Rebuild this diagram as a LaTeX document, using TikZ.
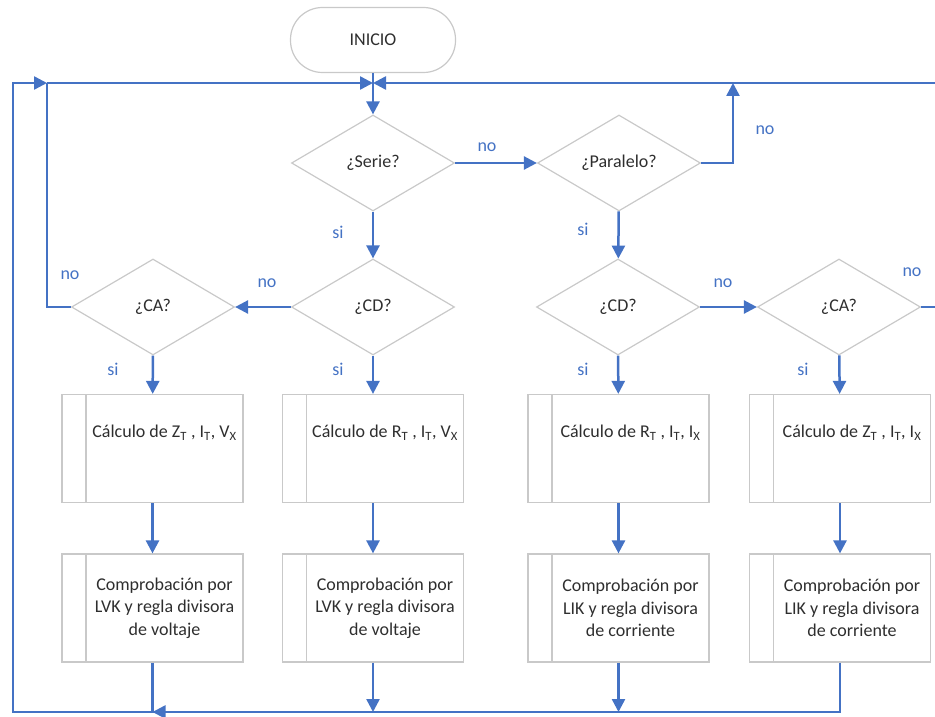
\documentclass[tikz,border=0pt]{standalone}
\usepackage{fontspec}
\setmainfont{Carlito}
\usepackage{tikz}
\usetikzlibrary{arrows.meta,positioning,calc,shapes.geometric}
\definecolor{flowblue}{HTML}{4472C4}
\definecolor{boxgray}{HTML}{C9C9C9}
\definecolor{txtgray}{HTML}{2E2E2E}
\tikzset{
  startbox/.style={draw=boxgray, line width=1.2pt, rounded corners=32pt, minimum width=165pt, minimum height=65pt, text=txtgray, font=\fontsize{18}{22.5}\selectfont},
  askbox/.style={draw=boxgray, line width=1.2pt, diamond, inner sep=0pt, minimum width=163pt, minimum height=96pt, text=txtgray, font=\fontsize{18}{22.5}\selectfont},
  procbox/.style={draw=boxgray, line width=1.2pt, minimum width=181pt, minimum height=108pt, inner sep=0pt,
    path picture={\draw[boxgray, line width=1.2pt] ([xshift=24pt]path picture bounding box.north west) -- ([xshift=24pt]path picture bounding box.south west);}},
  calctext/.style={text=txtgray, font=\fontsize{18}{22.5}\selectfont, xshift=12pt, yshift=16pt},
  comptext/.style={text=txtgray, font=\fontsize{18}{22.5}\selectfont, xshift=12pt, align=center},
  ans/.style={text=flowblue, font=\fontsize{18}{22.5}\selectfont},
  flow/.style={-{Triangle[length=13pt,width=13pt]}, line width=2.5pt, draw=flowblue},
  link/.style={line width=2.5pt, draw=flowblue},
}

\begin{document}
\begin{tikzpicture}[x=1pt, y=-1pt]
  \useasboundingbox (0,0) rectangle (935,717);
  \clip (0,0) rectangle (935,717);

  \node[startbox] (inicio) at (373,40) {INICIO};

  % preguntas
  \node[askbox] (serie) at (373,163) {¿Serie?};
  \node[askbox] (paralelo) at (619,163) {¿Paralelo?};
  \node[askbox] (cdS) at (373,307) {¿CD?};
  \node[askbox] (caS) at (153,307) {¿CA?};
  \node[askbox] (cdP) at (618,307) {¿CD?};
  \node[askbox] (caP) at (839,307) {¿CA?};

  % procesos
  \node[procbox, label={[calctext]center:{Cálculo de Z\textsubscript{T} , I\textsubscript{T}, V\textsubscript{X}}}] (calcCA) at (152.5,448.5) {};
  \node[procbox, label={[calctext]center:{Cálculo de R\textsubscript{T} , I\textsubscript{T}, V\textsubscript{X}}}] (calcCD) at (373,448.5) {};
  \node[procbox, label={[calctext]center:{Cálculo de R\textsubscript{T} , I\textsubscript{T}, I\textsubscript{X}}}] (calcCDp) at (618.5,448.5) {};
  \node[procbox, label={[calctext]center:{Cálculo de Z\textsubscript{T} , I\textsubscript{T}, I\textsubscript{X}}}] (calcCAp) at (840,448.5) {};

  \node[procbox, label={[comptext]center:{Comprobación por\\LVK y regla divisora\\de voltaje}}] (compCA) at (152.5,608) {};
  \node[procbox, label={[comptext]center:{Comprobación por\\LVK y regla divisora\\de voltaje}}] (compCD) at (373,608) {};
  \node[procbox, label={[comptext]center:{Comprobación por\\LIK y regla divisora\\de corriente}}] (compCDp) at (618.5,608) {};
  \node[procbox, label={[comptext]center:{Comprobación por\\LIK y regla divisora\\de corriente}}] (compCAp) at (840,608) {};

  % respuestas
  \node[ans] (siSerie) at (338,232) {si};
  \node[ans] (noSerie) at (487,147) {no};
  \node[ans] (noPar) at (765,130) {no};
  \node[ans] (siPar) at (583,229) {si};
  \node[ans] (noCDs) at (267,283) {no};
  \node[ans] (noCAs) at (70,275) {no};
  \node[ans] (siCAs) at (113,369) {si};
  \node[ans] (siCDs) at (338,369) {si};
  \node[ans] (siCDp) at (583,369) {si};
  \node[ans] (noCDp) at (723,283) {no};
  \node[ans] (noCAp) at (912,272) {no};
  \node[ans] (siCAp) at (803,369) {si};

  % puntos de retorno
  \coordinate (jn) at (373,83);
  \coordinate (tk) at (47,83);
  \coordinate (pj) at (733,83);
  \coordinate (bl) at (13,712);

  \draw[flow] (inicio) -- (serie);
  \draw[flow] (serie) -- (paralelo);
  \draw[flow] (paralelo.east) -| (pj);
  \draw[flow] (serie) -- (cdS);
  \draw[flow] (paralelo) -- (cdP);
  \draw[flow] (cdS) -- (caS);
  \draw[flow] (cdP) -- (caP);
  \draw[link] (caS.west) -| (tk);
  \draw[flow] (caP.east) -- ++(40,0) |- (jn);

  \draw[flow] (caS) -- (calcCA);
  \draw[flow] (cdS) -- (calcCD);
  \draw[flow] (cdP) -- (calcCDp);
  \draw[flow] (caP) -- (calcCAp);
  \draw[flow] (calcCA) -- (compCA);
  \draw[flow] (calcCD) -- (compCD);
  \draw[flow] (calcCDp) -- (compCDp);
  \draw[flow] (calcCAp) -- (compCAp);

  \draw[flow] (compCD.south) -- (compCD.south |- bl);
  \draw[flow] (compCDp.south) -- (compCDp.south |- bl);
  \draw[flow] (compCAp.south) |- (compCA.south |- bl);
  \draw[flow] (compCA.south) |- (bl) |- (tk);
  \draw[flow] (tk) -- (jn);
\end{tikzpicture}
\end{document}
